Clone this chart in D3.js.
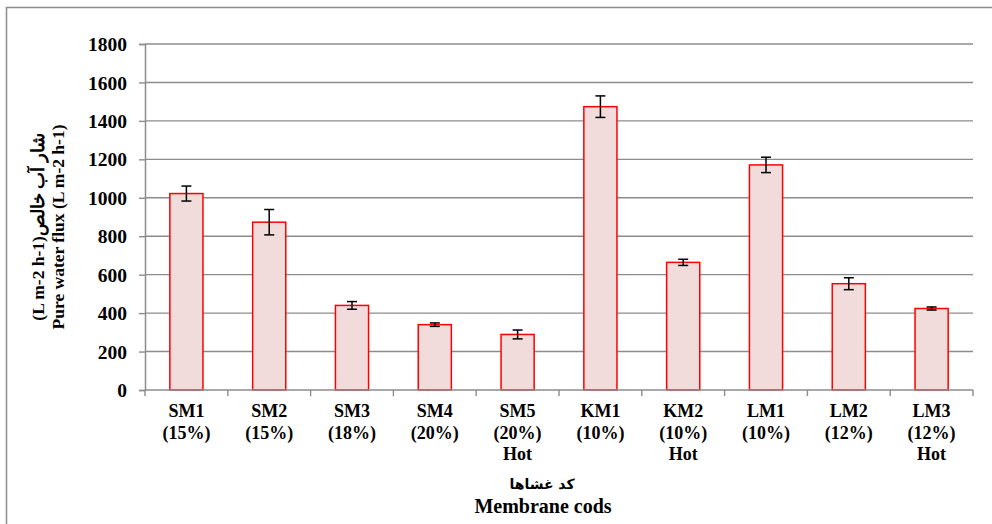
<!DOCTYPE html>
<html>
<head>
<meta charset="utf-8">
<script src="https://cdn.jsdelivr.net/npm/d3@7"></script>
<style>
  html, body { margin: 0; padding: 0; background: #fff; }
  svg { display: block; font-family: "Liberation Serif", "Times New Roman", serif; font-weight: bold; }
</style>
</head>
<body>
<svg id="chart" width="992" height="524"></svg>
<script>
// Data
const codes = ['SM1', 'SM2', 'SM3', 'SM4', 'SM5', 'KM1', 'KM2', 'LM1', 'LM2', 'LM3'];
const percents = ['(15%)', '(15%)', '(18%)', '(20%)', '(20%)', '(10%)', '(10%)', '(10%)', '(12%)', '(12%)'];
const notes = ['', '', '', '', 'Hot', '', 'Hot', '', '', 'Hot'];
const flux = [1022, 873, 440, 340, 289, 1474, 664, 1171, 553, 424];
const errors = [39, 66, 20, 9, 23, 56, 16, 40, 31, 8];
const yTicks = [0, 200, 400, 600, 800, 1000, 1200, 1400, 1600, 1800];

const svg = d3.select('#chart');
const margin = { left: 145, right: 19, top: 44, bottom: 134 };
const W = 992, H = 524;

// outer chart border (runs off right/bottom edge)
svg.append('path')
    .attr('d', 'M6.5,524 V7.5 H992')
    .attr('fill', 'none')
    .attr('stroke', '#8c8c8c')
    .attr('stroke-width', 1.5);

const x = d3.scaleBand()
    .domain(codes)
    .range([margin.left, W - margin.right])
    .paddingInner(0.6)
    .paddingOuter(0.3);

const y = d3.scaleLinear()
    .domain([0, 1800])
    .range([H - margin.bottom, margin.top]);

// gridlines
svg.append('g')
    .selectAll('line')
    .data(yTicks.slice(1))
    .join('line')
    .attr('x1', margin.left)
    .attr('x2', W - margin.right)
    .attr('y1', d => y(d))
    .attr('y2', d => y(d))
    .attr('stroke', '#8c8c8c')
    .attr('stroke-width', 1.4);

// y axis
const yAxis = svg.append('g')
    .attr('transform', `translate(${margin.left},0)`)
    .call(d3.axisLeft(y).tickValues(yTicks).tickFormat(d3.format('d')).tickSize(6).tickPadding(12));
yAxis.select('.domain').attr('stroke', '#8c8c8c').attr('stroke-width', 1.5);
yAxis.selectAll('.tick line').attr('stroke', '#8c8c8c').attr('stroke-width', 1.4);
yAxis.selectAll('.tick text')
    .attr('fill', '#000')
    .attr('dy', '0.34em')
    .style('font-size', '19.5px')
    .style('font-family', '"Liberation Serif", serif')
    .style('font-weight', 'bold');

// bars
svg.append('g')
    .selectAll('rect')
    .data(codes)
    .join('rect')
    .attr('x', d => x(d))
    .attr('width', x.bandwidth())
    .attr('y', (d, i) => y(flux[i]))
    .attr('height', (d, i) => y(0) - y(flux[i]))
    .attr('fill', '#f2dcdb')
    .attr('stroke', '#ff0000')
    .attr('stroke-width', 1.5);

// error bars
const eb = svg.append('g').attr('stroke', '#000').attr('stroke-width', 1.5);
codes.forEach((c, i) => {
    const cx = x(c) + x.bandwidth() / 2;
    const top = y(flux[i] + errors[i]);
    const bot = y(flux[i] - errors[i]);
    eb.append('line').attr('x1', cx).attr('x2', cx).attr('y1', top).attr('y2', bot);
    eb.append('line').attr('x1', cx - 5).attr('x2', cx + 5).attr('y1', top).attr('y2', top);
    eb.append('line').attr('x1', cx - 5).attr('x2', cx + 5).attr('y1', bot).attr('y2', bot);
});

// x axis line with category boundary ticks
const x0 = margin.left;
svg.append('line')
    .attr('x1', x0).attr('x2', W - margin.right)
    .attr('y1', y(0)).attr('y2', y(0))
    .attr('stroke', '#8c8c8c').attr('stroke-width', 1.5);
svg.append('g')
    .selectAll('line')
    .data(d3.range(codes.length + 1))
    .join('line')
    .attr('x1', i => x0 + i * (W - margin.right - x0) / codes.length)
    .attr('x2', i => x0 + i * (W - margin.right - x0) / codes.length)
    .attr('y1', y(0))
    .attr('y2', y(0) + 6)
    .attr('stroke', '#8c8c8c')
    .attr('stroke-width', 1.4);

// category labels
const lab = svg.append('g').style('font-size', '18px').attr('text-anchor', 'middle');
codes.forEach((c, i) => {
    const cx = x(c) + x.bandwidth() / 2;
    const lines = [c, percents[i], notes[i]];
    lines.forEach((t, k) => {
        if (!t) return;
        lab.append('text')
            .attr('x', cx)
            .attr('y', 417 + k * 21.5)
            .text(t);
    });
});

// x axis title
svg.append('text')
    .attr('x', 542).attr('y', 489)
    .attr('text-anchor', 'middle')
    .style('font-size', '14px')
    .style('font-family', '"DejaVu Sans", sans-serif')
    .style('font-weight', 'bold')
    .text('كد غشاها');
svg.append('text')
    .attr('x', 543).attr('y', 513)
    .attr('text-anchor', 'middle')
    .style('font-size', '20px')
    .text('Membrane cods');

// y axis title
const yt = svg.append('g').attr('transform', 'translate(0,227) rotate(-90)');
yt.append('text')
    .attr('x', 0).attr('y', 44)
    .attr('text-anchor', 'middle')
    .style('font-size', '17.5px')
    .text('(L m-2 h-1)شار آب خالص');
yt.append('text')
    .attr('x', 0).attr('y', 64)
    .attr('text-anchor', 'middle')
    .style('font-size', '17.5px')
    .text('Pure water flux (L m-2 h-1)');
</script>
</body>
</html>
